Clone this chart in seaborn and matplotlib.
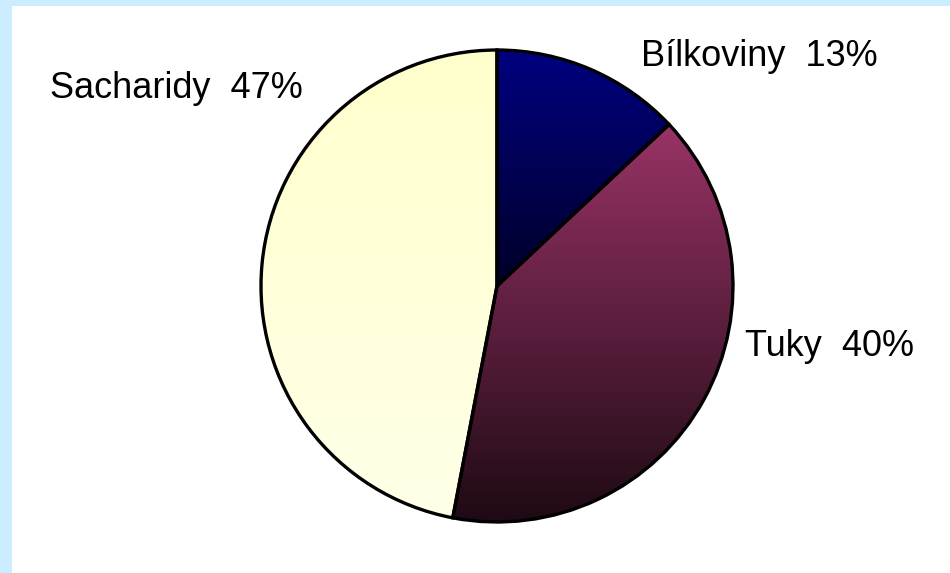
import numpy as np
import matplotlib
matplotlib.use("Agg")
import matplotlib.pyplot as plt
import seaborn as sns
from matplotlib.colors import LinearSegmentedColormap

sns.set_theme(style="white")
plt.rcParams['font.family'] = ['Liberation Sans', 'DejaVu Sans']

# Data
categories = ["Bílkoviny", "Tuky", "Sacharidy"]
values = [13, 40, 47]
top_colors = ["#000080", "#993366", "#FFFFCC"]
bottom_colors = ["#000028", "#1E0A14", "#FFFFE8"]

W, H = 950, 573
fig = plt.figure(figsize=(W / 100, H / 100), dpi=100)
fig.patch.set_facecolor("#CCECFF")
ax = fig.add_axes([12 / W, 0, (W - 12) / W, (H - 6) / H])
ax.set_facecolor("white")
ax.set_axis_off()
ax.add_patch(plt.Rectangle((12, 0), W - 12, H - 6, facecolor="white", edgecolor="none", zorder=0))

cx, cy, r = 497, H - 286, 236
wedges, _ = ax.pie(values, startangle=90, counterclock=False, center=(cx, cy), radius=r,
                   wedgeprops=dict(facecolor="none", edgecolor="black", linewidth=2.4),
                   frame=False)
ax.set_aspect("auto")

for w, ct, cb in zip(wedges, top_colors, bottom_colors):
    bb = w.get_path().get_extents(w.get_patch_transform())
    cmap = LinearSegmentedColormap.from_list("g", [ct, cb])
    grad = np.linspace(0, 1, 256).reshape(-1, 1)
    im = ax.imshow(grad, cmap=cmap, extent=[bb.x0, bb.x1, bb.y0, bb.y1], aspect="auto",
                   origin="upper", zorder=1)
    im.set_clip_path(w)
    w.set_zorder(2)

ax.set_xlim(12, W)
ax.set_ylim(0, H - 6)

label_pos = [(641, H - 66), (745, H - 356), (50, H - 98)]
for name, val, (tx, ty) in zip(categories, values, label_pos):
    ax.text(tx, ty, f"{name}  {val}%", fontsize=26, color="black", ha="left", va="baseline", zorder=3)

fig.savefig("out.png", dpi=100, facecolor=fig.get_facecolor())
